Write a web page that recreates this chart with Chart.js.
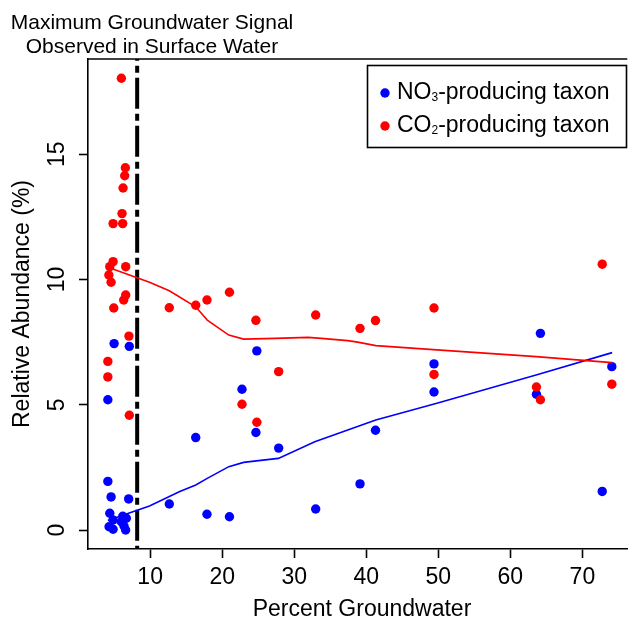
<!DOCTYPE html>
<html>
<head>
<meta charset="utf-8">
<script src="https://cdn.jsdelivr.net/npm/chart.js@4.4.0/dist/chart.umd.min.js"></script>
<style>
    html, body { margin: 0; padding: 0; background: #fff; overflow: hidden; }
    #wrap { width: 632px; height: 625px; }
</style>
</head>
<body>
<div id="wrap"><canvas id="chart" width="632" height="625"></canvas></div>
<script>
// Procent grundvatten och relativ abundans per prov
const no3X = [5.0, 7.11, 4.13, 4.13, 4.58, 7.02, 4.4, 4.86, 4.3, 4.86, 6.0, 6.7, 6.37, 6.6, 6.2,
    24.81, 22.75, 16.33, 24.68, 27.84, 12.66, 17.89, 21.01, 32.98,
    39.13, 41.28, 49.4, 49.4, 64.17, 63.62, 72.75, 74.08];
const no3Y = [7.44, 7.33, 5.20, 1.94, 1.32, 1.24, 0.67, 0.40, 0.13, 0.03, 0.33, 0.47, 0.16, 0.0, 0.55,
    7.15, 5.62, 3.69, 3.89, 3.27, 1.04, 0.63, 0.53, 0.84,
    1.84, 3.98, 6.63, 5.51, 7.85, 5.42, 1.54, 6.52];

const co2X = [6.01, 6.56, 6.47, 6.24, 6.10, 4.86, 6.19, 4.86, 4.40, 6.61, 4.27, 4.58, 6.61, 6.33, 4.95, 7.06, 4.13, 4.13, 7.11,
    12.66, 16.33, 17.89, 21.01, 24.68, 32.98, 27.84, 22.75, 24.81,
    39.13, 41.28, 49.4, 49.4, 72.75, 63.62, 64.17, 74.08];
const co2Y = [18.03, 14.46, 14.14, 13.65, 12.63, 12.23, 12.23, 10.71, 10.51, 10.51, 10.18, 9.89, 9.38, 9.18, 8.86, 7.74, 6.73, 6.11, 4.58,
    8.87, 8.97, 9.18, 9.49, 8.37, 8.58, 6.32, 5.02, 4.30,
    8.05, 8.36, 8.86, 6.21, 10.61, 5.71, 5.20, 5.82];

// Utjämnade kurvor (loess)
const no3FitX = [4.13, 6.7, 9.91, 14.04, 16.33, 17.93, 20.92, 22.98, 25.04, 27.8, 32.85, 37.43, 41.32, 49.8, 63.57, 74.13];
const no3FitY = [0.38, 0.64, 0.96, 1.53, 1.80, 2.06, 2.53, 2.70, 2.77, 2.86, 3.52, 3.99, 4.39, 5.06, 6.19, 7.08];
const co2FitX = [4.17, 4.82, 9.91, 12.66, 16.33, 17.93, 20.92, 22.98, 27.34, 31.93, 33.76, 37.43, 38.81, 41.32, 49.8, 63.57, 74.13];
const co2FitY = [10.50, 10.42, 9.89, 9.55, 8.91, 8.38, 7.78, 7.62, 7.65, 7.69, 7.65, 7.56, 7.50, 7.36, 7.19, 6.92, 6.68];

const xTicks = [10, 20, 30, 40, 50, 60, 70];
const yTicks = [0, 5, 10, 15];
const cutoffX = 8.2; // maximal grundvattensignal i ytvatten

const X_MIN = 1.376, X_MAX = 76.23;
const Y_MIN = -0.758, Y_MAX = 18.8;
const FONT = "'Liberation Sans', Arial, sans-serif";

function toPoints(xs, ys) {
    return xs.map((x, i) => ({ x: x, y: ys[i] }));
}

// Ritar ram, rubriker, y-etiketter och legend
const dekor = {
    id: 'dekor',
    afterDraw(chart) {
        const ctx = chart.ctx;
        const a = chart.chartArea;
        const yScale = chart.scales.y;
        ctx.save();
        ctx.fillStyle = '#000';
        ctx.strokeStyle = '#000';

        // övre kantlinje
        ctx.lineWidth = 1.6;
        ctx.beginPath();
        ctx.moveTo(a.left, a.top);
        ctx.lineTo(a.right, a.top);
        ctx.stroke();

        // y-etiketter, roterade
        ctx.font = '23px ' + FONT;
        ctx.textAlign = 'center';
        ctx.textBaseline = 'middle';
        yTicks.forEach(v => {
            ctx.save();
            ctx.translate(58, yScale.getPixelForValue(v));
            ctx.rotate(-Math.PI / 2);
            ctx.fillText(String(v), 0, 0);
            ctx.restore();
        });

        // axeltitlar
        ctx.save();
        ctx.translate(23, 304);
        ctx.rotate(-Math.PI / 2);
        ctx.fillText('Relative Abundance (%)', 0, 0);
        ctx.restore();
        ctx.fillText('Percent Groundwater', 362, 610);

        // rubrik
        ctx.font = '21px ' + FONT;
        ctx.textBaseline = 'alphabetic';
        ctx.fillText('Maximum Groundwater Signal', 152, 29);
        ctx.fillText('Observed in Surface Water', 152, 53);

        // legend
        ctx.lineWidth = 1.6;
        ctx.strokeRect(367.5, 65.5, 259, 82);
        const rader = [
            { farg: 'rgb(0,0,255)', delar: ['NO', '3', '-producing taxon'], y: 93 },
            { farg: 'rgb(255,0,0)', delar: ['CO', '2', '-producing taxon'], y: 126 }
        ];
        rader.forEach(r => {
            ctx.fillStyle = r.farg;
            ctx.beginPath();
            ctx.arc(385, r.y, 4.7, 0, Math.PI * 2);
            ctx.fill();
            ctx.fillStyle = '#000';
            ctx.textAlign = 'left';
            ctx.textBaseline = 'middle';
            let x = 397;
            ctx.font = '23px ' + FONT;
            ctx.fillText(r.delar[0], x, r.y);
            x += ctx.measureText(r.delar[0]).width;
            ctx.font = '12px ' + FONT;
            ctx.fillText(r.delar[1], x, r.y + 5);
            x += ctx.measureText(r.delar[1]).width;
            ctx.font = '23px ' + FONT;
            ctx.fillText(r.delar[2], x, r.y);
        });
        ctx.restore();
    }
};

const ctx = document.getElementById('chart').getContext('2d');
new Chart(ctx, {
    type: 'scatter',
    data: {
        datasets: [
            {
                label: 'cutoff',
                data: [{ x: cutoffX, y: Y_MAX }, { x: cutoffX, y: Y_MIN }],
                showLine: true,
                borderColor: '#000',
                borderWidth: 4,
                borderDash: [31, 5, 7, 5],
                borderDashOffset: 29.3,
                borderCapStyle: 'butt',
                pointRadius: 0,
                order: 5
            },
            {
                label: 'NO3-producing taxon',
                data: toPoints(no3X, no3Y),
                backgroundColor: 'rgb(0,0,255)',
                borderWidth: 0,
                pointRadius: 4.7,
                order: 4
            },
            {
                label: 'CO2-producing taxon',
                data: toPoints(co2X, co2Y),
                backgroundColor: 'rgb(255,0,0)',
                borderWidth: 0,
                pointRadius: 4.7,
                order: 3
            },
            {
                label: 'NO3 loess',
                data: toPoints(no3FitX, no3FitY),
                showLine: true,
                borderColor: 'rgb(0,0,255)',
                borderWidth: 1.6,
                pointRadius: 0,
                order: 2
            },
            {
                label: 'CO2 loess',
                data: toPoints(co2FitX, co2FitY),
                showLine: true,
                borderColor: 'rgb(255,0,0)',
                borderWidth: 1.6,
                pointRadius: 0,
                order: 1
            }
        ]
    },
    options: {
        responsive: false,
        animation: false,
        devicePixelRatio: 1,
        layout: { padding: { top: 59, left: 0, right: 0, bottom: 0 } },
        plugins: {
            legend: { display: false },
            tooltip: { enabled: false }
        },
        scales: {
            x: {
                type: 'linear',
                min: X_MIN,
                max: X_MAX,
                afterBuildTicks: s => { s.ticks = xTicks.map(v => ({ value: v })); },
                afterFit: s => { s.height = 76; },
                grid: {
                    drawOnChartArea: false,
                    drawTicks: true,
                    tickLength: 9,
                    tickColor: '#000',
                    tickWidth: 1.6
                },
                border: { display: true, color: '#000', width: 1.6 },
                ticks: {
                    color: '#000',
                    font: { size: 23, family: FONT },
                    padding: 6,
                    maxRotation: 0
                }
            },
            y: {
                type: 'linear',
                min: Y_MIN,
                max: Y_MAX,
                afterBuildTicks: s => { s.ticks = yTicks.map(v => ({ value: v })); },
                afterFit: s => { s.width = 88; },
                grid: {
                    drawOnChartArea: false,
                    drawTicks: true,
                    tickLength: 9,
                    tickColor: '#000',
                    tickWidth: 1.6
                },
                border: { display: true, color: '#000', width: 1.6 },
                ticks: { display: false }
            }
        }
    },
    plugins: [dekor]
});
</script>
</body>
</html>
